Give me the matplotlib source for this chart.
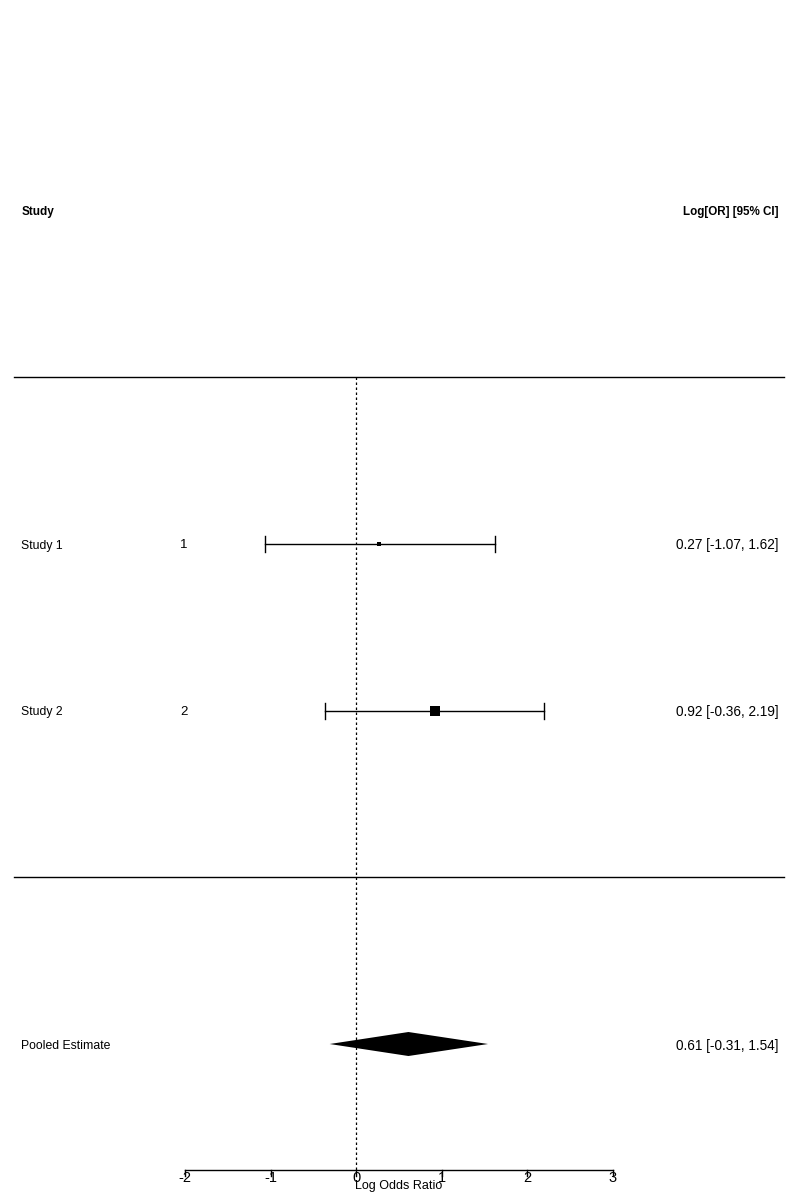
import matplotlib
matplotlib.use("Agg")
import matplotlib.pyplot as plt
import numpy as np

plt.rcParams['font.family'] = ['Liberation Sans', 'DejaVu Sans']

studies = ["Study 1", "Study 2"]
study_ids = ["1", "2"]
est = [0.27, 0.92]
lo = [-1.07, -0.36]
hi = [1.62, 2.19]
weights = [0.42, 1.0]  # relative square size
pooled_label = "Pooled Estimate"
pooled_est = 0.61
pooled_lo = -0.31
pooled_hi = 1.54
xticks = [-2, -1, 0, 1, 2, 3]
xlabel = "Log Odds Ratio"
header_left = "Study"
header_right = "Log[OR] [95% CI]"

fig = plt.figure(figsize=(8, 12), dpi=100)
ax = fig.add_axes([0, 0, 1, 1])
px = 85.6  # pixels per unit x
x_left = -2 - 185 / px
x_right = x_left + 800 / px
row = 166.67
y_top = 2 + 544 / row
y_bot = y_top - 1200 / row
ax.set_xlim(x_left, x_right)
ax.set_ylim(y_bot, y_top)
ax.axis('off')

rows = [2, 1]
pooled_row = -1
fs_left = 8.8
fs_right = 9.8
dy = 1.5 / row

# horizontal separators
for yy in [3, 0]:
    ax.plot([-4, 5.0], [yy, yy], color='black', lw=1)

# reference line
axis_y = -1 - 126 / row
ax.plot([0, 0], [3, axis_y], color='black', lw=0.9, linestyle=(0, (2, 2)))

cap = 8 / row
for r, e, l, h, w, s, sid in zip(rows, est, lo, hi, weights, studies, study_ids):
    ax.plot([l, h], [r, r], color='black', lw=1)
    ax.plot([l, l], [r - cap, r + cap], color='black', lw=1)
    ax.plot([h, h], [r - cap, r + cap], color='black', lw=1)
    ax.plot([e], [r], marker='s', color='black', markersize=6.5 * w, markeredgewidth=0)
    ax.text(-3.916, r - dy, s, ha='left', va='center', fontsize=fs_left)
    ax.text(-2.01, r - dy, sid, ha='center', va='center', fontsize=9.5)
    ax.text(4.93, r - dy, f"{e:.2f} [{l:.2f}, {h:.2f}]", ha='right', va='center', fontsize=fs_right)

# pooled diamond
dh = 12 / row
ax.fill([pooled_lo, pooled_est, pooled_hi, pooled_est],
        [pooled_row, pooled_row + dh, pooled_row, pooled_row - dh],
        color='black', lw=0)
ax.text(-3.916, pooled_row - dy, pooled_label, ha='left', va='center', fontsize=fs_left)
ax.text(4.93, pooled_row - dy, f"{pooled_est:.2f} [{pooled_lo:.2f}, {pooled_hi:.2f}]",
        ha='right', va='center', fontsize=fs_right)

# headers
ax.text(-3.905, 4 - dy, header_left, ha='left', va='center', fontsize=8.5, fontweight='bold')
ax.text(4.93, 4 - dy, header_right, ha='right', va='center', fontsize=8.4, fontweight='bold')

# x axis
ax.plot([xticks[0], xticks[-1]], [axis_y, axis_y], color='black', lw=1)
tl = 6 / row
for t in xticks:
    ax.plot([t, t], [axis_y, axis_y - tl], color='black', lw=1)
    ax.text(t, axis_y - 1 / row, str(t), ha='center', va='top', fontsize=10.5)
ax.text((xticks[0] + xticks[-1]) / 2, axis_y - 10 / row, xlabel, ha='center', va='top', fontsize=9)

fig.savefig("out.png", dpi=100)
